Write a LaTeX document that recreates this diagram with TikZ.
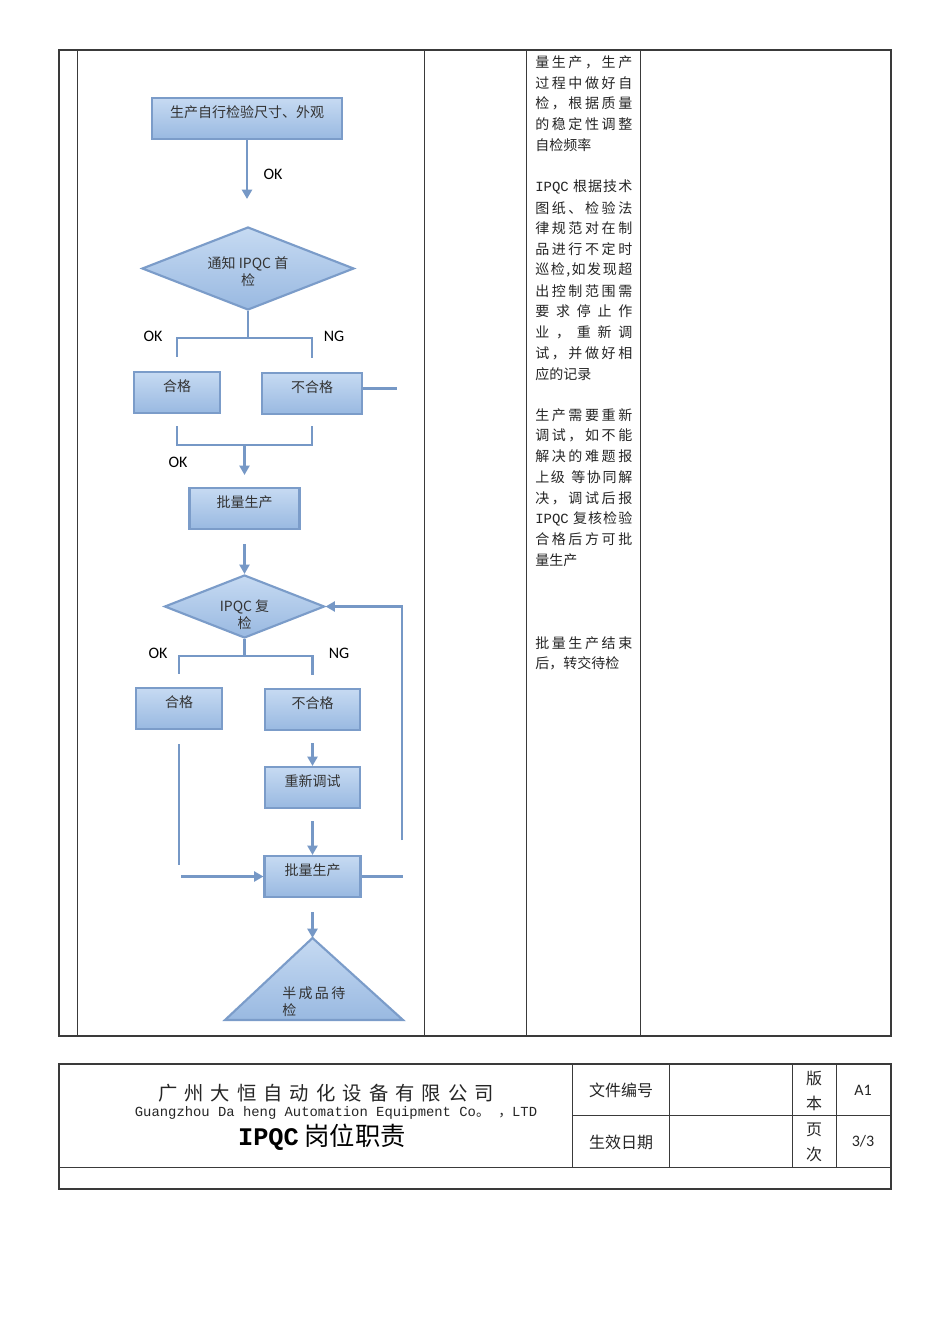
\documentclass[tikz,border=0pt]{standalone}
\usepackage{fontspec}
\setmainfont{Noto Sans CJK SC}
\newfontfamily\cjk{Noto Sans CJK SC}
\newfontfamily\calibri{Carlito}
\newfontfamily\latinmono{Liberation Mono}
\usetikzlibrary{shapes.geometric,arrows.meta}
\newcommand\pxu{0.75pt}
\newlength\colw
\setlength\colw{72.75pt}
\ExplSyntaxOn
\NewDocumentCommand\jline{O{\colw}m}{\makebox[#1][s]{\tl_map_inline:nn{#2}{##1\hfil}\unskip}}
\ExplSyntaxOff
\definecolor{boxtop}{HTML}{C6DAF2}
\definecolor{boxbot}{HTML}{99B9E1}
\definecolor{boxline}{HTML}{7B9CC9}
\definecolor{flowline}{HTML}{7698C6}
\definecolor{rule}{HTML}{3A3A3A}
\tikzstyle{proc} = [draw=boxline, line width=1.6pt, top color=boxtop, bottom color=boxbot, inner ysep=0pt, text height=14.5pt, text depth=16.25pt, font=\cjk\fontsize{10.5}{12}\selectfont, text=black!80]
\tikzstyle{decide} = [diamond, draw=boxline, line width=1.6pt, top color=boxtop, bottom color=boxbot, inner sep=0pt]
\tikzstyle{dtext} = [align=center, inner sep=0pt, font=\cjk\fontsize{10.5}{12.75}\selectfont, text=black!80]
\tikzstyle{flow} = [draw=flowline, line width=1.7pt, -{Triangle[length=7pt,width=7.5pt]}]
\tikzstyle{link} = [draw=flowline, line width=1.7pt]
\tikzstyle{tag} = [inner sep=0pt, font=\calibri\fontsize{12}{14}\selectfont]
\tikzstyle{coltext} = [anchor=west, inner sep=0pt, font=\cjk\fontsize{10.5}{12}\selectfont, text=black!85]
\tikzstyle{cell} = [inner sep=0pt, font=\cjk\fontsize{12}{18.75}\selectfont, text=black!85, align=center]
\tikzstyle{frame} = [draw=rule, line width=1.5pt]
\tikzstyle{grid} = [draw=rule, line width=0.6pt]
\begin{document}
\begin{tikzpicture}[x=0.75pt, y=-0.75pt]
\useasboundingbox (0,0) rectangle (950,1344);
\fill[white] (0,0) rectangle (950,1344);

% flow chart
\node[proc, minimum width=190*\pxu] (b1) at (247,118.5) {生产自行检验尺寸、外观};
\node[decide, minimum width=212*\pxu, minimum height=83*\pxu] (d1) at (248,268.5) {};
\node[dtext] (d1t) at ([yshift=-3*\pxu]d1.center) {通知 IPQC 首\\检};
\node[proc, minimum width=86*\pxu] (ok1) at (177,392.5) {合格};
\node[proc, minimum width=100*\pxu] (ng1) at (312,393.5) {不合格};
\node[proc, minimum width=110*\pxu] (p1) at (244.5,508.5) {批量生产};
\node[decide, minimum width=160*\pxu, minimum height=63*\pxu] (d2) at (244.5,606.5) {};
\node[dtext] (d2t) at ([yshift=-8*\pxu]d2.center) {IPQC 复\\检};
\node[proc, minimum width=86*\pxu] (ok2) at (179,708.5) {合格};
\node[proc, minimum width=95*\pxu] (ng2) at (312.5,709.5) {不合格};
\node[proc, minimum width=95*\pxu] (adj) at (312.5,787.5) {重新调试};
\node[proc, minimum width=96*\pxu] (p2) at (312.5,876.5) {批量生产};
\coordinate (apex) at (312.5,938);
\draw[link, draw=boxline, line width=1.6pt, top color=boxtop, bottom color=boxbot] (apex) -- (403,1020) -- (225,1020) -- cycle;
\node[dtext, anchor=west, align=left] (t1) at (282,1002) {\jline[47.25pt]{半成品待}\\检};

\coordinate (e1) at (247,199);
\draw[flow] (b1.south) -- (b1.south |- e1);
\coordinate (j1) at (247,338);
\draw[link] (d1.south) -- (d1.south |- j1);
\draw[link] ([yshift=14*\pxu]ok1.north) |- (j1) -| ([yshift=14*\pxu]ng1.north);
\coordinate (j2) at (244.5,445);
\draw[link] ([yshift=-12*\pxu]ok1.south) |- (j2) -| ([yshift=-11*\pxu]ng1.south);
\draw[flow] (j2) -- ([yshift=12*\pxu]p1.north);
\draw[link] ([yshift=5*\pxu]ng1.east) -- ++(34,0);
\draw[flow] ([yshift=-14*\pxu]p1.south) -- (d2.north);
\coordinate (j3) at (244.5,656);
\draw[link] (d2.south) -- (j3);
\draw[link] ([yshift=13*\pxu]ok2.north) |- (j3) -| ([yshift=13*\pxu]ng2.north);
\draw[flow] ([yshift=-12*\pxu]ng2.south) -- (adj.north);
\draw[flow] ([yshift=-12*\pxu]adj.south) -- (p2.north);
\draw[link] ([yshift=-14*\pxu]ok2.south) -- ++(0,121);
\coordinate (s2) at (181,876.5);
\draw[flow] (s2) -- (p2.west);
\draw[link] (p2.east) -- ++(41,0);
\coordinate (r1) at (402,840);
\draw[flow] (r1) |- (d2.east);
\draw[flow] ([yshift=-14*\pxu]p2.south) -- (apex);

\node[tag] (ok0) at (273,174) {OK};
\node[tag] (okl1) at (153,336) {OK};
\node[tag] (ngl1) at (334,336) {NG};
\node[tag] (okm) at (178,462) {OK};
\node[tag] (okl2) at (158,653) {OK};
\node[tag] (ngl2) at (339,653) {NG};

% notes column
\foreach \row [count=\i] in {{\jline{量生产，生产}}, {\jline{过程中做好自}}, {\jline{检，根据质量}}, {\jline{的稳定性调整}}, 自检频率}
  \node[coltext] (na-\i) at (535,{62+20.75*(\i-1)}) {\row};
\foreach \row [count=\i] in {{\jline{{{\latinmono IPQC}~}根据技术}}, {\jline{图纸、检验法}}, {\jline{律规范对在制}}, {\jline{品进行不定时}}, {\jline{巡检,如发现超}}, {\jline{出控制范围需}}, {\jline{要求停止作}}, {\jline{业，重新调}}, {\jline{试，并做好相}}, 应的记录}
  \node[coltext] (nb-\i) at (535,{187+20.75*(\i-1)}) {\row};
\foreach \row [count=\i] in {{\jline{生产需要重新}}, {\jline{调试，如不能}}, {\jline{解决的难题报}}, {\jline{上级~等协同解}}, {\jline{决，调试后报}}, {\jline{{{\latinmono IPQC}~}复核检验}}, {\jline{合格后方可批}}, 量生产}
  \node[coltext] (nc-\i) at (535,{415+20.75*(\i-1)}) {\row};
\foreach \row [count=\i] in {{\jline{批量生产结束}}, 后，转交待检}
  \node[coltext] (nd-\i) at (535,{643+20.75*(\i-1)}) {\row};

% table
\draw[grid] (77,50) -- (77,1036);
\draw[grid] (424,50) -- (424,1036);
\draw[grid] (526,50) -- (526,1036);
\draw[grid] (640,50) -- (640,1036);
\draw[frame] (59,50) rectangle (891,1036);

% footer
\draw[grid] (59,1167) -- (891,1167);
\draw[grid] (572,1115) -- (891,1115);
\foreach \cx in {572,669,792,836}
  \draw[grid] (\cx,1064) -- (\cx,1167);
\draw[frame] (59,1064) rectangle (891,1189);
\node[inner sep=0pt, font=\cjk\fontsize{14.5}{16}\selectfont, text=black!85] (co) at (326,1093) {\jline[252pt]{广州大恒自动化设备有限公司}};
\node[inner sep=0pt, font=\latinmono\fontsize{10.4}{12}\selectfont, text=black!85] (coen) at (336,1113) {Guangzhou Da heng Automation Equipment Co{\cjk 。} {\cjk ，}LTD};
\node[inner sep=0pt, font=\fontsize{19}{22}\selectfont] (title) at (322,1137) {{\latinmono\bfseries IPQC} {\cjk 岗位职责}};
\node[cell] (fno) at (621,1090) {文件编号};
\node[cell] (fdate) at (621,1142) {生效日期};
\node[cell] (ver) at (814,1090.5) {版\\本};
\node[cell] (pg) at (814,1142.5) {页\\次};
\node[tag, text=black!85] (vernum) at (863,1090) {A1};
\node[tag, text=black!85] (pgnum) at (863,1141) {3/3};
\end{tikzpicture}
\end{document}
